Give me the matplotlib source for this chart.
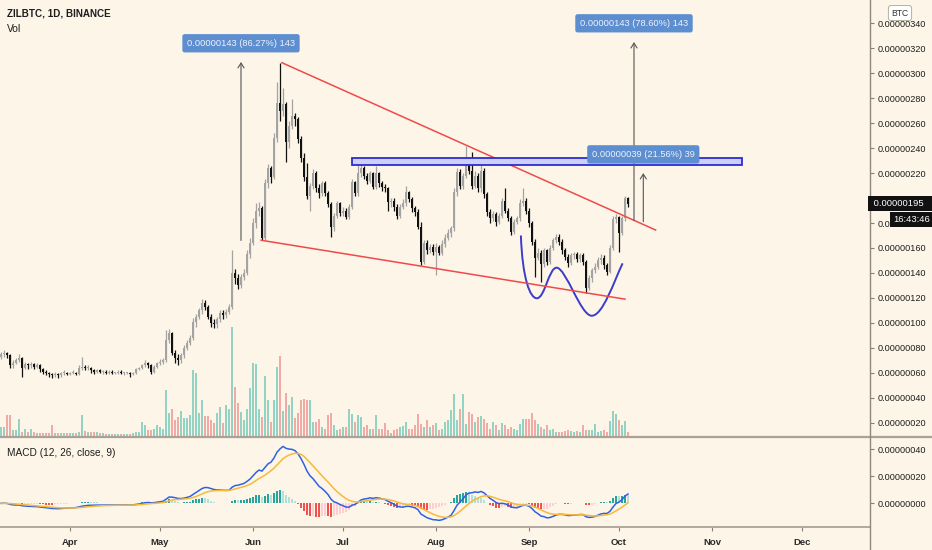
import numpy as np
import pandas as pd
import matplotlib
matplotlib.use("Agg")
import matplotlib.pyplot as plt
from matplotlib.patches import Rectangle, PathPatch
from matplotlib.path import Path
from matplotlib.lines import Line2D

# daily ZILBTC candles from 2020-03-09, prices in satoshi (1e-8 BTC)
start_day = "2020-03-09"
first_open = 73
closes = [75, 76, 74, 66, 68, 70, 72, 64, 67, 66,
          67, 65, 66, 63, 61, 60, 59, 58, 59, 58,
          60, 60, 59, 60, 60, 59, 64, 65, 64, 64,
          62, 61, 62, 61, 61, 60, 61, 60, 60, 61,
          60, 60, 60, 59, 60, 63, 64, 66, 68, 66,
          61, 65, 68, 69, 70, 86, 92, 76, 72, 70,
          74, 80, 84, 88, 101, 105, 110, 116, 113, 105,
          100, 99, 103, 108, 106, 109, 113, 140, 136, 130,
          137, 140, 155, 164, 180, 190, 192, 168, 212, 224,
          217, 248, 276, 270, 275, 245, 258, 266, 263, 247,
          232, 217, 202, 210, 220, 208, 204, 212, 204, 195,
          177, 186, 196, 188, 190, 185, 193, 213, 204, 220,
          224, 218, 214, 220, 209, 220, 212, 209, 208, 197,
          198, 193, 186, 193, 196, 205, 199, 192, 189, 177,
          149, 164, 158, 161, 157, 161, 156, 163, 168, 172,
          176, 205, 221, 210, 218, 230, 222, 210, 218, 208,
          222, 203, 189, 184, 187, 181, 186, 198, 190, 184,
          173, 181, 184, 196, 198, 190, 180, 165, 152, 156,
          147, 158, 149, 160, 166, 169, 165, 158, 153, 148,
          154, 155, 151, 154, 149, 128, 136, 142, 145, 150,
          152, 146, 141, 160, 183, 185, 172, 184, 200, 195]
highs = [77, 78, 77, 75, 70, 72, 75, 73, 69, 68,
         69, 68, 68, 67, 64, 62, 61, 60, 61, 60,
         61, 62, 61, 61, 62, 61, 66, 73, 66, 66,
         65, 63, 63, 63, 62, 62, 62, 62, 61, 62,
         62, 61, 61, 61, 61, 64, 65, 67, 70, 69,
         67, 66, 69, 71, 72, 94, 95, 93, 78, 75,
         76, 82, 86, 90, 104, 107, 112, 119, 118, 114,
         107, 103, 105, 110, 110, 111, 115, 158, 143, 139,
         139, 143, 158, 168, 184, 196, 197, 194, 215, 227,
         226, 252, 293, 308, 288, 277, 262, 279, 268, 265,
         250, 236, 228, 212, 223, 222, 211, 214, 214, 206,
         197, 188, 198, 197, 193, 192, 195, 215, 214, 229,
         230, 226, 220, 222, 221, 226, 221, 214, 211, 209,
         200, 200, 195, 195, 199, 210, 206, 201, 194, 191,
         181, 166, 166, 163, 163, 164, 162, 166, 171, 175,
         178, 208, 224, 223, 220, 242, 233, 237, 222, 220,
         232, 224, 205, 191, 190, 189, 188, 200, 208, 192,
         186, 183, 186, 199, 208, 200, 192, 182, 167, 160,
         158, 160, 159, 162, 168, 171, 171, 167, 160, 155,
         156, 157, 157, 156, 156, 150, 138, 144, 148, 153,
         155, 154, 148, 162, 186, 187, 186, 186, 202, 201]
lows = [71, 73, 72, 64, 64, 67, 69, 57, 63, 63,
        64, 63, 64, 61, 59, 58, 57, 56, 57, 56,
        57, 58, 58, 58, 59, 58, 58, 62, 62, 62,
        60, 59, 60, 60, 59, 59, 59, 59, 59, 59,
        59, 58, 59, 57, 58, 59, 62, 63, 65, 64,
        59, 60, 64, 66, 67, 69, 84, 74, 68, 66,
        68, 72, 78, 82, 86, 97, 103, 107, 110, 103,
        97, 96, 96, 101, 103, 104, 107, 111, 131, 127,
        128, 134, 138, 152, 162, 176, 186, 166, 166, 208,
        212, 215, 245, 262, 266, 229, 240, 255, 258, 244,
        229, 214, 199, 190, 207, 205, 200, 202, 202, 193,
        169, 174, 184, 186, 186, 183, 183, 191, 202, 202,
        217, 215, 211, 212, 207, 207, 209, 206, 205, 190,
        193, 190, 183, 184, 191, 194, 197, 189, 186, 175,
        146, 147, 155, 156, 154, 138, 154, 154, 161, 166,
        169, 174, 202, 207, 207, 216, 219, 207, 208, 205,
        205, 200, 186, 180, 182, 178, 179, 184, 188, 182,
        170, 171, 179, 182, 194, 187, 177, 162, 137, 150,
        133, 145, 146, 147, 158, 164, 162, 155, 150, 145,
        146, 151, 149, 149, 146, 124, 126, 133, 140, 143,
        147, 143, 138, 140, 158, 180, 157, 170, 182, 193]
volumes = [10, 10, 22, 22, 7, 7, 18, 5, 8, 5,
           8, 5, 4, 4, 4, 4, 4, 12, 4, 4,
           4, 4, 4, 4, 4, 4, 5, 22, 6, 5,
           5, 5, 5, 4, 4, 3, 3, 3, 3, 3,
           3, 3, 3, 3, 4, 5, 5, 15, 12, 7,
           7, 8, 12, 10, 8, 47, 24, 28, 17, 20,
           26, 19, 19, 22, 67, 64, 24, 37, 21, 21,
           17, 14, 24, 30, 14, 32, 28, 110, 50, 34,
           25, 17, 28, 49, 74, 73, 28, 20, 61, 37,
           15, 37, 70, 81, 26, 44, 32, 40, 19, 24,
           37, 38, 37, 37, 15, 15, 18, 10, 8, 22,
           24, 12, 7, 8, 10, 10, 28, 23, 15, 22,
           20, 10, 12, 8, 8, 22, 8, 8, 14, 7,
           4, 7, 8, 10, 11, 15, 8, 8, 12, 23,
           13, 10, 17, 10, 12, 14, 7, 8, 15, 17,
           27, 43, 17, 28, 43, 13, 25, 23, 15, 20,
           21, 18, 14, 8, 15, 12, 7, 14, 12, 8,
           10, 8, 7, 13, 18, 18, 18, 24, 17, 13,
           10, 8, 12, 7, 8, 5, 5, 5, 6, 7,
           6, 5, 6, 5, 12, 7, 7, 7, 13, 5,
           6, 7, 5, 16, 26, 23, 17, 12, 16, 5]

month_names = ["Apr", "May", "Jun", "Jul", "Aug", "Sep", "Oct", "Nov", "Dec"]
price_ticks = list(range(20, 341, 20))
macd_ticks = [0, 20, 40]

# drawings (day index from start, price)
trend_upper = ([93.6, 218.2], [308.5, 174.4])
trend_lower = ([86.7, 208.0], [166.2, 119.0])
box_days = (117, 247)
box_prices = (226.5, 231.9)
ranges = [(80.0, 166, 309, "0.00000143 (86.27%) 143"),
          (211.0, 182, 325, "0.00000143 (78.60%) 143"),
          (214.1, 181, 220, "0.00000039 (21.56%) 39")]
w_curve = [(173.3, 170), (173.8, 135), (176.4, 119.7), (178.6, 119.7),
           (181.3, 119.7), (182.6, 144.2), (185.2, 144.2),
           (188.3, 144.2), (193.2, 105.7), (196.9, 105.7),
           (200.6, 105.7), (204.3, 133), (207.2, 147.7)]
last_price = "0.00000195"
countdown = "16:43:46"

BG = "#fdf5e8"
plt.rcParams['font.family'] = ['Liberation Sans', 'DejaVu Sans']

n = len(closes)
idx = np.arange(n)
opens = np.array([first_open] + closes[:-1], dtype=float)
c = np.array(closes, dtype=float)
up = c >= opens
cand_col = np.where(up, "#a3a3a3", "#111111")
vol_col = np.where(up, "#93d3c3", "#f2aaa6")

dates = pd.date_range(start_day, periods=n)
month_idx = [(d - dates[0]).days for d in pd.date_range("2020-04-01", "2020-12-01", freq="MS")]

fig = plt.figure(figsize=(9.32, 5.5), dpi=100, facecolor=BG)
W, H = 932.0, 550.0
x0, x1 = -1/3, 869/3
ax = fig.add_axes([0, 1 - 437/H, 870/W, 437/H])
axm = fig.add_axes([0, 1 - 527/H, 870/W, 90/H], sharex=ax)
axv = ax.twinx()

# volume overlay
axv.bar(idx, volumes, width=0.55, color=vol_col, linewidth=0)
axv.set_ylim(0, 437)
axv.axis("off")
ax.set_zorder(axv.get_zorder() + 1)
ax.patch.set_visible(False)

# candles
ax.vlines(idx, lows, highs, colors=cand_col, linewidth=0.9)
body_lo = np.minimum(opens, c)
body_h = np.maximum(np.abs(c - opens), 0.8)
ax.bar(idx, body_h, bottom=body_lo, width=0.72, color=cand_col, linewidth=0)

ax.set_xlim(x0, x1)
ax.set_ylim(8.54, 358.7)
ax.set_facecolor(BG)

# drawings
ax.plot(*trend_upper, color="#ef4a4a", lw=1.1)
ax.plot(*trend_lower, color="#ef4a4a", lw=1.1)
ax.add_patch(Rectangle((box_days[0], box_prices[0]), box_days[1] - box_days[0],
                       box_prices[1] - box_prices[0], facecolor="#cdd0f6",
                       edgecolor="#2c2cd8", lw=1.3, clip_on=False, zorder=3))
for xd, lo, hi, lab in ranges:
    ax.annotate("", xy=(xd, hi), xytext=(xd, lo),
                arrowprops=dict(arrowstyle="->,head_length=0.35,head_width=0.22",
                                color="#555555", lw=0.8, shrinkA=0, shrinkB=0))
    ax.annotate(lab, xy=(xd, hi), xytext=(0, 13.5), textcoords="offset points",
                ha="center", va="center", fontsize=6.7, color="#eef3fb", zorder=6,
                bbox=dict(boxstyle="round,pad=0.5,rounding_size=0.25",
                          fc="#5d8ed0", ec="none"))
codes = [Path.MOVETO] + [Path.CURVE4] * (len(w_curve) - 1)
ax.add_patch(PathPatch(Path(w_curve, codes), fill=False, edgecolor="#3b3bcc", lw=1.4))

# price axis
ax.yaxis.tick_right()
ax.set_yticks(price_ticks)
ax.set_yticklabels([f"{v * 1e-8:.8f}" for v in price_ticks])
ax.tick_params(axis="y", length=3, width=0.8, color="#8a8276", labelsize=6.6,
               labelcolor="#1e1e1e", pad=2.6)
ax.tick_params(axis="x", bottom=False, labelbottom=False)
for s in ["top", "left", "bottom", "right"]:
    ax.spines[s].set_visible(False)

# MACD
s = pd.Series(closes, dtype=float)
macd = s.ewm(span=12, adjust=False).mean() - s.ewm(span=26, adjust=False).mean()
signal = macd.ewm(span=9, adjust=False).mean()
hist = (macd - signal).values
prev = np.concatenate([[0.0], hist[:-1]])
hcol = np.where(hist >= 0, np.where(hist > prev, "#26a69a", "#b2dfdb"),
                np.where(hist > prev, "#ffcdd2", "#ef5350"))
axm.bar(idx, hist, width=0.62, color=hcol, linewidth=0)
axm.plot(idx, macd, color="#2f62e0", lw=1.1)
axm.plot(idx, signal, color="#f6b93b", lw=1.1)
axm.set_ylim(-17.5, 49.1)
axm.set_facecolor(BG)
axm.yaxis.tick_right()
axm.set_yticks(macd_ticks)
axm.set_yticklabels([f"{v * 1e-8:.8f}" for v in macd_ticks])
axm.tick_params(axis="y", length=3, width=0.8, color="#8a8276", labelsize=6.6,
                labelcolor="#1e1e1e", pad=2.6)
axm.set_xticks(month_idx)
axm.set_xticklabels(month_names, fontweight="bold")
axm.tick_params(axis="x", length=3, width=0.8, color="#8a8276", labelsize=6.8,
                labelcolor="#2a2a2a", pad=5)
for s_ in ["top", "left", "right"]:
    axm.spines[s_].set_visible(False)
axm.spines["bottom"].set_color("#a39c90")
axm.spines["bottom"].set_linewidth(1.2)
axm.set_xlim(x0, x1)

# pane borders
fig.add_artist(Line2D([0, 1], [1 - 437/H, 1 - 437/H], transform=fig.transFigure,
                      color="#aaa296", lw=1.6))
fig.add_artist(Line2D([870/W, 870/W], [0, 1], transform=fig.transFigure,
                      color="#8f877b", lw=1.0))

# texts
fig.text(7/W, 1 - 14/H, "ZILBTC, 1D, BINANCE", fontsize=7.1, fontweight="bold",
         color="#1e1e1e", va="center")
fig.text(7/W, 1 - 29/H, "Vol", fontsize=7.4, color="#1e1e1e", va="center")
fig.text(7/W, 1 - 452.7/H, "MACD (12, 26, close, 9)", fontsize=7.3,
         color="#1e1e1e", va="center")
fig.text(900/W, 1 - 13/H, "BTC", fontsize=6.2, color="#333333", ha="center", va="center",
         bbox=dict(boxstyle="round,pad=0.35,rounding_size=0.3", fc="white", ec="#b8b0a4", lw=0.7))
fig.text(871/W, 1 - 203.5/H, " " + last_price + "  ", fontsize=6.8, color="white",
         va="center", ha="left", zorder=10,
         bbox=dict(boxstyle="square,pad=0.3", fc="#111111", ec="none"))
fig.text(930/W, 1 - 219.5/H, countdown, fontsize=6.8, color="white",
         va="center", ha="right", zorder=10,
         bbox=dict(boxstyle="square,pad=0.3", fc="#111111", ec="none"))

fig.savefig("out.png", dpi=100, facecolor=BG)
